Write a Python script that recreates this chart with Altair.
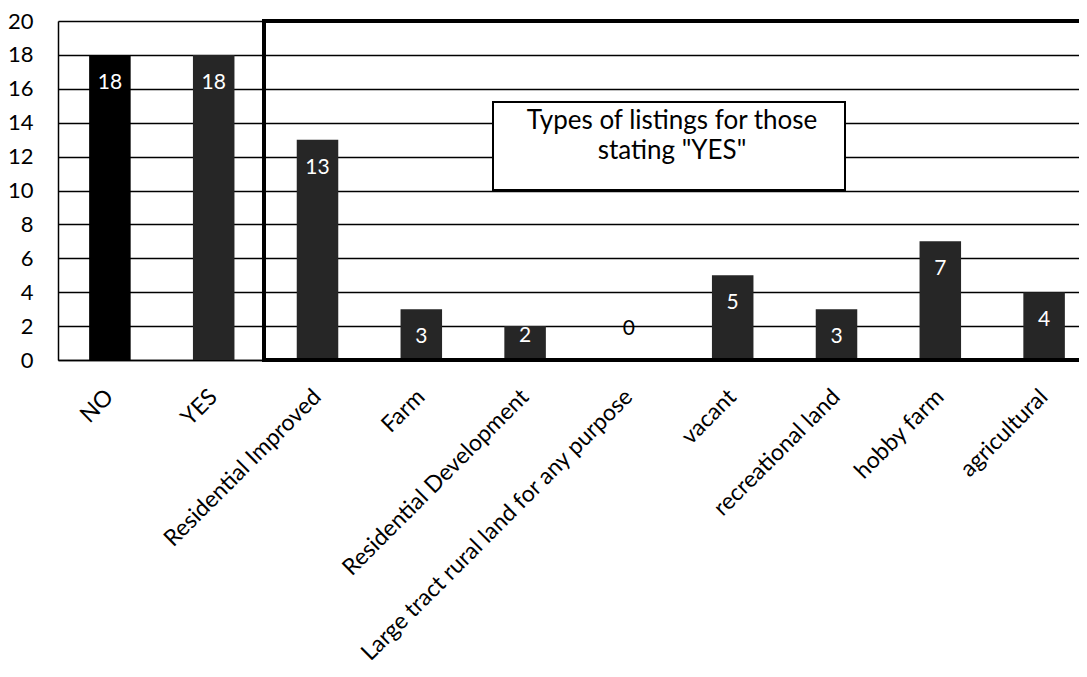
import altair as alt
import pandas as pd

categories = ["NO", "YES", "Residential Improved", "Farm", "Residential Development",
              "Large tract rural land for any purpose", "vacant", "recreational land",
              "hobby farm", "agricultural"]
values = [18, 18, 13, 3, 2, 0, 5, 3, 7, 4]
y_ticks = [0, 2, 4, 6, 8, 10, 12, 14, 16, 18, 20]
box_lines = ["Types of listings for those", 'stating "YES"']

FONT = "Lato"
W, H = 1038, 339

df = pd.DataFrame({"cat": categories, "value": values})

xaxis = alt.Axis(title=None, labelAngle=-45, labelAlign="right", labelBaseline="middle",
                 labelFontSize=23, labelFont=FONT, labelColor="black",
                 labelPadding=33, ticks=False, domainColor="black", domainWidth=1.5,
                 labelLimit=0, labelOverlap=False)
xscale = alt.Scale(paddingInner=0.6, paddingOuter=0.3)
yscale = alt.Scale(domain=[0, 20], nice=False)
yaxis = alt.Axis(title=None, values=y_ticks, tickCount=11, ticks=False, labelFontSize=22,
                 labelFont=FONT, labelColor="black", labelPadding=25, labelOverlap=False,
                 grid=True, gridColor="black", gridWidth=1.5, gridOpacity=1,
                 domainColor="black", domainWidth=1.5)

X = alt.X("cat:N", sort=categories, scale=xscale, axis=xaxis)
Y = alt.Y("value:Q", scale=yscale, axis=yaxis)

base = alt.Chart(df)

bars = base.mark_bar().encode(
    x=X, y=Y,
    color=alt.condition(alt.datum.cat == "NO", alt.value("#000000"), alt.value("#262626")),
)

def labels(flt, dy, color):
    return base.transform_filter(flt).mark_text(
        font=FONT, fontSize=21, color=color, baseline="middle", dy=dy
    ).encode(x=X, y=Y, text="value:Q")

lab_big = labels("datum.value >= 3", 28, "white")
lab_small = labels("datum.value > 0 && datum.value < 3", 10, "white")
lab_zero = labels("datum.value == 0", -31, "black")

one = alt.Chart(alt.Data(values=[{}]))

thick_box = one.mark_rect(fill="transparent", stroke="black", strokeWidth=4).encode(
    x=alt.value(206), x2=alt.value(W + 30),
    y=alt.Y(datum=20, scale=yscale, axis=yaxis), y2=alt.Y2(datum=0)
)

note_box = one.mark_rect(fill="white", stroke="black", strokeWidth=2).encode(
    x=alt.value(435), x2=alt.value(787), y=alt.value(81), y2=alt.value(169)
)

note_text = one.mark_text(font=FONT, fontSize=26, color="black", baseline="middle",
                          align="center", lineHeight=30).encode(
    x=alt.value(614), y=alt.value(100), text=alt.value(box_lines)
)

chart = alt.layer(bars, lab_big, lab_small, lab_zero, thick_box, note_box, note_text).properties(
    width=W, height=H,
    autosize=alt.AutoSizeParams(type="none"),
    padding={"left": 50, "top": 13, "right": -17, "bottom": 300},
).configure_view(stroke=None).configure(background="white")

chart.save("out.html", embed_options={"renderer": "svg", "actions": False})
